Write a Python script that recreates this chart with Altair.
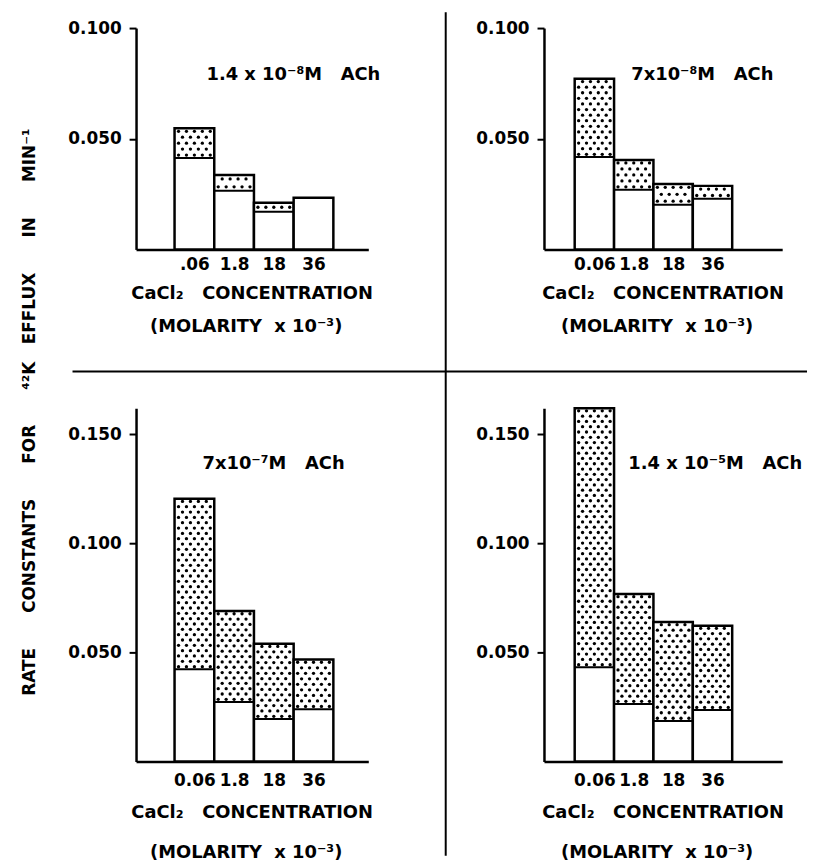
import altair as alt
import pandas as pd

# ---------------- data ----------------
conc_short = [".06", "1.8", "18", "36"]
conc = ["0.06", "1.8", "18", "36"]

# rate constants (min^-1): control (white part) and with ACh (top of stippled part)
tl_control = [0.0413, 0.0265, 0.0170, 0.0233]
tl_ach = [0.0547, 0.0336, 0.0211, 0.0233]
tr_control = [0.0417, 0.0269, 0.0202, 0.0229]
tr_ach = [0.0771, 0.0404, 0.0296, 0.0287]
bl_control = [0.0423, 0.0273, 0.0195, 0.0240]
bl_ach = [0.1205, 0.0690, 0.0540, 0.0468]
br_control = [0.0432, 0.0264, 0.0186, 0.0236]
br_ach = [0.1620, 0.0768, 0.0640, 0.0623]

NB = "\u00a0"
panel_titles = ["1.4 x 10\u207b\u2078M" + NB * 3 + "ACh", "7x10\u207b\u2078M" + NB * 3 + "ACh",
                "7x10\u207b\u2077M" + NB * 3 + "ACh", "1.4 x 10\u207b\u2075M" + NB * 3 + "ACh"]
top_ticks = [0.05, 0.10]
bottom_ticks = [0.05, 0.10, 0.15]

G = NB * 5 + " "
y_title = ("RATE" + G + "CONSTANTS" + G + "FOR" + G + "\u2074\u00b2K" + NB * 2 + " EFFLUX" + G
           + "IN" + G + "MIN\u207b\u00b9")
x_title_1 = "CaCl\u2082" + NB * 2 + " CONCENTRATION"
x_title_2 = "(MOLARITY" + NB + " x" + NB + "10\u207b\u00b3)"

FONT = "DejaVu Sans"
FS_TICK = 17
FS_TITLE = 18
DY = 0.0024    # stipple row spacing (data units)
NCOL = 5       # stipple dots per bar row


def panel(labels, control, ach, title, width, height, xdom, ydom, yvals,
          lab_pad, t1_dy, t2_dy, ann_x, ann_y, extras=()):
    df = pd.DataFrame({"conc": labels, "control": control, "ach": ach})
    base = alt.Chart(df).transform_window(idx="row_number()").transform_calculate(
        x1="datum.idx + 1", zero="0")
    xs = alt.Scale(domain=xdom, nice=False, zero=False)
    ys = alt.Scale(domain=ydom, nice=False, zero=False)
    label_expr = "[" + ",".join("'" + s + "'" for s in labels) + "][round(datum.value - 1.5)]"
    xaxis = alt.Axis(values=[i + 1.5 for i in range(len(labels))], labelExpr=label_expr,
                     ticks=False, grid=False, domainWidth=2.5, domainColor="black",
                     labelFont=FONT, labelFontSize=FS_TICK, labelFontWeight="bold",
                     labelColor="black", labelPadding=lab_pad, title=None)
    yaxis = alt.Axis(values=yvals, format=".3f", tickSize=7, tickWidth=2, tickColor="black",
                     domainWidth=2.5, domainColor="black", grid=False, labelFont=FONT,
                     labelFontSize=FS_TICK, labelFontWeight="bold", labelColor="black",
                     labelPadding=8, title=None)

    bars = base.mark_rect(fill="white", stroke="black", strokeWidth=2.5).encode(
        x=alt.X("idx:Q", scale=xs, axis=xaxis), x2="x1:Q",
        y=alt.Y("ach:Q", scale=ys, axis=yaxis), y2="zero:Q")

    stip = base.transform_filter("datum.ach - datum.control > 0.0008")
    nrow = f"max(1, floor((datum.ach - datum.control) / {DY}))"
    dots = stip.transform_calculate(
        r=f"sequence(0, {nrow})").transform_flatten(["r"]).transform_calculate(
        c=f"sequence(0, {NCOL})").transform_flatten(["c"]).transform_calculate(
        dx=f"datum.idx + (datum.c + 0.5 + (datum.r % 2) * 0.5) / {NCOL}",
        dy=f"datum.control + (datum.r + 0.5) * (datum.ach - datum.control) / {nrow}").transform_filter(
        "datum.dx < datum.idx + 0.95").mark_circle(size=11, color="black", opacity=1).encode(
        x=alt.X("dx:Q", scale=xs, axis=xaxis), y=alt.Y("dy:Q", scale=ys, axis=yaxis))

    split = stip.mark_rule(color="black", strokeWidth=2).encode(
        x=alt.X("idx:Q", scale=xs, axis=xaxis), x2="x1:Q",
        y=alt.Y("control:Q", scale=ys, axis=yaxis))

    tdf = pd.DataFrame({"t": [title], "a": [x_title_1], "b": [x_title_2]})
    tchart = alt.Chart(tdf)
    ann = tchart.mark_text(font=FONT, fontSize=FS_TITLE, fontWeight="bold", align="left",
                           baseline="middle", color="black").encode(
        x=alt.value(ann_x), y=alt.value(ann_y), text="t:N")
    xt1 = tchart.mark_text(font=FONT, fontSize=FS_TITLE, fontWeight="bold", align="center",
                           baseline="middle", color="black").encode(
        x=alt.value(width / 2), y=alt.value(height + t1_dy), text="a:N")
    xt2 = tchart.mark_text(font=FONT, fontSize=FS_TITLE, fontWeight="bold", align="center",
                           baseline="middle", color="black").encode(
        x=alt.value(width / 2 - 6), y=alt.value(height + t2_dy), text="b:N")

    return alt.layer(bars, dots, split, ann, xt1, xt2, *extras).properties(
        width=width, height=height)


# frame elements drawn from the top-left panel (page origin of that plot = 136, 24)
frame_df = pd.DataFrame({"t": [y_title]})
frame = alt.Chart(frame_df)
ytitle = frame.mark_text(font=FONT, fontSize=17, fontWeight="bold", angle=270,
                         align="center", baseline="middle", color="black").encode(
    x=alt.value(-107), y=alt.value(387), text="t:N")
hline = frame.mark_rule(color="black", strokeWidth=2).encode(
    x=alt.value(-64), x2=alt.value(676), y=alt.value(346))
vline = frame.mark_rule(color="black", strokeWidth=2).encode(
    x=alt.value(312), y=alt.value(-16), y2=alt.value(834))
anchor = frame.mark_rule(color="white", strokeWidth=1).encode(
    x=alt.value(-128), x2=alt.value(-126), y=alt.value(346))

W1, W2 = 234, 240
H1, H2 = 223, 356
XD1 = [0.03, 5.88]
XD2 = [0.22, 6.27]

tl = panel(conc_short, tl_control, tl_ach, panel_titles[0], W1, H1, XD1, [0, 0.100], top_ticks,
           7, 45, 78, 71, 47, extras=(ytitle, hline, vline, anchor))
tr = panel(conc, tr_control, tr_ach, panel_titles[1], W2, H1, XD2, [0, 0.100], top_ticks,
           7, 45, 78, 88, 47)
bl = panel(conc, bl_control, bl_ach, panel_titles[2], W1, H2, XD1, [0, 0.162], bottom_ticks,
           11, 52, 92, 67, 56)
br = panel(conc, br_control, br_ach, panel_titles[3], W2, H2, XD2, [0, 0.162], bottom_ticks,
           11, 52, 92, 85, 56)

chart = alt.concat(tl, tr, bl, br, columns=2, spacing=alt.RowColnumber(row=160, column=177),
                   bounds="flush").properties(padding=0).configure_view(strokeWidth=0)

chart.save("out.html", embed_options={"renderer": "svg", "actions": False})
